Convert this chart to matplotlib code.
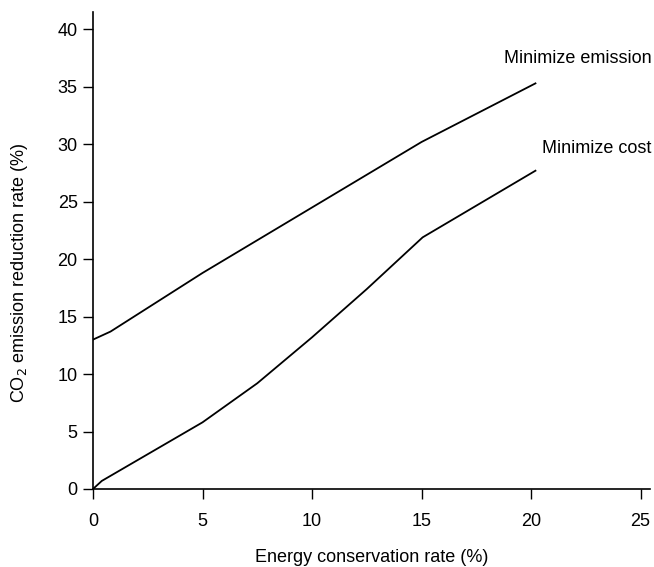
import matplotlib
matplotlib.use("Agg")
import matplotlib.pyplot as plt

plt.rcParams['font.family'] = ['Liberation Sans', 'DejaVu Sans']

# Minimize emission curve
x_emis = [0, 0.8, 5, 10, 15, 20.2]
y_emis = [13.0, 13.7, 18.8, 24.5, 30.2, 35.3]

# Minimize cost curve
x_cost = [0, 0.4, 5, 7.5, 10, 12.5, 15.05, 20.2]
y_cost = [0, 0.7, 5.8, 9.2, 13.2, 17.4, 21.9, 27.7]

x_ticks = [0, 5, 10, 15, 20, 25]
y_ticks = [0, 5, 10, 15, 20, 25, 30, 35, 40]

fig = plt.figure(figsize=(6.54, 5.67), dpi=100)
ax = fig.add_axes([0.1422, 0.1376, 0.8517, 0.841])

ax.plot(x_emis, y_emis, color='black', lw=1.3)
ax.plot(x_cost, y_cost, color='black', lw=1.3)

ax.text(25.5, 37.5, 'Minimize emission', fontsize=13, ha='right', va='center', clip_on=False)
ax.text(25.5, 29.6, 'Minimize cost', fontsize=13, ha='right', va='center', clip_on=False)

ax.set_xlim(0, 25.43)
ax.set_ylim(0, 41.5)
ax.set_xticks(x_ticks)
ax.set_yticks(y_ticks)
ax.tick_params(axis='both', direction='out', length=7, width=1, labelsize=13)
ax.tick_params(axis='x', pad=10)
ax.tick_params(axis='y', pad=4)

for s in ['top', 'right']:
    ax.spines[s].set_visible(False)
for s in ['left', 'bottom']:
    ax.spines[s].set_linewidth(1.2)

ax.set_xlabel('Energy conservation rate (%)', fontsize=13)
ax.set_ylabel('CO$_2$ emission reduction rate (%)', fontsize=13)
ax.xaxis.set_label_coords(0.5, -0.125)
ax.yaxis.set_label_coords(-0.113, 0.453)

fig.savefig('out.png', dpi=100)
